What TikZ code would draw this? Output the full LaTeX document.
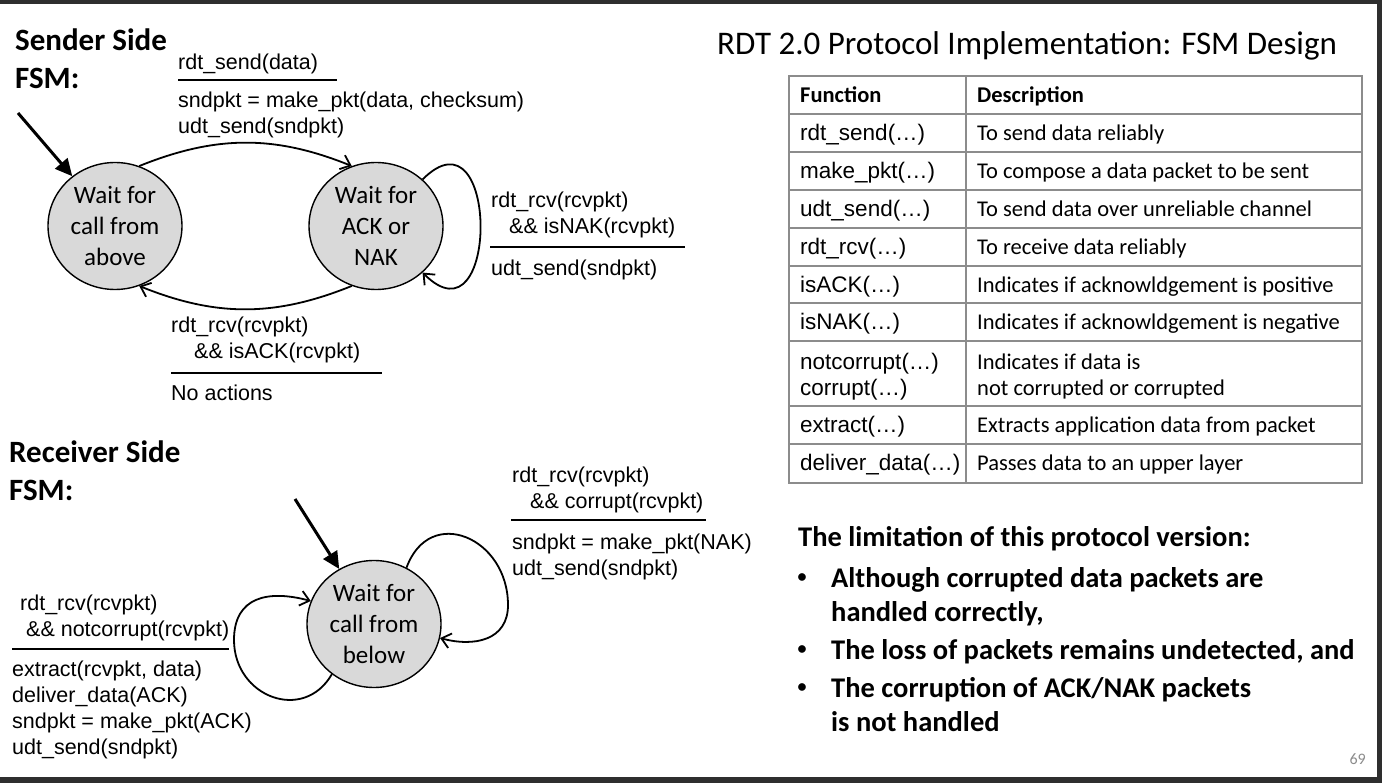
\documentclass[tikz,border=0pt]{standalone}
\usepackage{fontspec}
\setmainfont{Carlito}
\newfontfamily\arialfont{Liberation Sans}
\usetikzlibrary{shapes.geometric,arrows.meta}
\definecolor{framegray}{HTML}{2E2E2E}
\definecolor{statefill}{HTML}{D9D9D9}
\definecolor{gridgray}{HTML}{8C8C8C}
\definecolor{pagegray}{HTML}{8C8C8C}
\tikzset{
  state/.style={draw, ellipse, fill=statefill, line width=1.4pt, minimum width=134pt, minimum height=127pt, inner sep=0pt, align=center, font=\fontsize{25}{31}\selectfont},
  guard/.style={anchor=north west, inner sep=0pt, align=left, font=\arialfont\fontsize{21.5}{26}\selectfont},
  heading/.style={anchor=north west, inner sep=0pt, align=left, font=\bfseries\fontsize{31}{38}\selectfont},
  trans/.style={line width=1.8pt, -{Straight Barb[length=9pt,width=15pt]}},
  init/.style={line width=3pt, -{Triangle[length=17pt,width=16pt]}},
  bar/.style={line width=2.6pt},
  grid/.style={draw=gridgray, line width=1.3pt},
  fcell/.style={anchor=base west, inner sep=0pt, font=\arialfont\fontsize{22.5}{27}\selectfont},
  dcell/.style={anchor=base west, inner sep=0pt, font=\fontsize{22.5}{27}\selectfont},
  hcell/.style={anchor=base west, inner sep=0pt, font=\bfseries\fontsize{22.5}{27}\selectfont},
  point/.style={anchor=base west, inner sep=0pt, font=\bfseries\fontsize{28.5}{34}\selectfont},
  dot/.style={anchor=base, inner sep=0pt, font=\bfseries\fontsize{18}{20}\selectfont},
}
\begin{document}
\begin{tikzpicture}[x=1pt,y=1pt]
        \useasboundingbox (0,0) rectangle (1382,-783);
        \fill[framegray] (0,0) rectangle (1382,-783);
        \fill[white] (0,-4) rectangle (1377,-777);

        \node[heading] (sendh) at (15,-29) {Sender Side\\FSM:};
        \node[heading] (recvh) at (9,-441) {Receiver Side\\FSM:};
        \node[anchor=base west, inner sep=0pt, font=\fontsize{33}{40}\selectfont] (title) at (717,-55) {RDT 2.0 Protocol Implementation: FSM Design};

        \node[state] (A) at (115,-226) {Wait for\\call from\\above};
        \node[state] (B) at (376,-226) {Wait for\\ACK or\\NAK};
        \node[state] (C) at (374,-624) {Wait for\\call from\\below};

        \coordinate (Ainit) at (18,-113);
        \coordinate (Cinit) at (295,-499);
        \coordinate (Cright) at (508,-605);
        \coordinate (Cleft) at (234,-640);

        \draw[init] (Ainit) -- (A);
        \draw[trans] (A.68) to[bend left=22] (B.112);
        \draw[trans] (B.248) to[bend left=22] (A.292);
        \draw[trans] (B.45) to[out=45, in=-45, looseness=3] (B.-45);

        \draw[init] (Cinit) -- (C);
        \draw[trans] (C.60) to[out=70, in=90, looseness=1.6] (Cright) to[out=-90, in=-15, looseness=1.2] (C.-12);
        \draw[trans] (C.230) to[out=240, in=-90, looseness=1.4] (Cleft) to[out=90, in=165, looseness=1.3] (C.160);

        \node[guard] (sendg) at (178,-54) {rdt\_send(data)};
        \draw[bar] (178,-80) -- (337,-80);
        \node[guard] (senda) at (178,-92) {sndpkt = make\_pkt(data, checksum)\\udt\_send(sndpkt)};

        \node[guard] (nakg) at (491,-192) {rdt\_rcv(rcvpkt)\\\hspace*{18pt}\&\& isNAK(rcvpkt)};
        \draw[bar] (490,-247) -- (685,-247);
        \node[guard] (naka) at (491,-260) {udt\_send(sndpkt)};

        \node[guard] (ackg) at (171,-317) {rdt\_rcv(rcvpkt)\\\hspace*{23pt}\&\& isACK(rcvpkt)};
        \draw[bar] (171,-373) -- (382,-373);
        \node[guard] (acka) at (171,-385) {No actions};

        \node[guard] (corg) at (512,-467) {rdt\_rcv(rcvpkt)\\\hspace*{18pt}\&\& corrupt(rcvpkt)};
        \draw[bar] (511,-520) -- (706,-520);
        \node[guard] (cora) at (512,-534) {sndpkt = make\_pkt(NAK)\\udt\_send(sndpkt)};

        \node[guard] (okg) at (20,-595) {rdt\_rcv(rcvpkt)\\\hspace*{6pt}\&\& notcorrupt(rcvpkt)};
        \draw[bar] (12,-649) -- (229,-649);
        \node[guard] (oka) at (12,-661) {extract(rcvpkt, data)\\deliver\_data(ACK)\\sndpkt = make\_pkt(ACK)\\udt\_send(sndpkt)};

        \draw[grid] (789,-76) rectangle (1362,-483);
        \draw[grid] (966,-76) -- (966,-483);
        \foreach \y in {114,152,190,228,266,303,341,406,444}
            \draw[grid] (789,-\y) -- (1362,-\y);
        \node[hcell] (fh) at (800,-103) {Function};
        \node[hcell] (dh) at (977,-103) {Description};
        \foreach \i/\y/\f/\d in {1/140.5/rdt\_send(…)/To send data reliably,
                                 2/178.5/make\_pkt(…)/To compose a data packet to be sent,
                                 3/216.5/udt\_send(…)/To send data over unreliable channel,
                                 4/254.5/rdt\_rcv(…)/To receive data reliably,
                                 5/292.5/isACK(…)/Indicates if acknowldgement is positive,
                                 6/330/isNAK(…)/Indicates if acknowldgement is negative,
                                 7/369.5/notcorrupt(…)/Indicates if data is,
                                 8/395.5/corrupt(…)/not corrupted or corrupted,
                                 9/433/extract(…)/Extracts application data from packet,
                                 10/471/deliver\_data(…)/Passes data to an upper layer}{
            \node[fcell] (f\i) at (800,-\y) {\f};
            \node[dcell] (d\i) at (977,-\y) {\d};
        }

        \node[point] (limit) at (798,-546) {The limitation of this protocol version:};
        \node[dot] (b1) at (802,-582) {•};
        \node[point] (p1) at (831,-587) {Although corrupted data packets are};
        \node[point] (p1b) at (831,-621) {handled correctly,};
        \node[dot] (b2) at (802,-654) {•};
        \node[point] (p2) at (831,-659) {The loss of packets remains undetected, and};
        \node[dot] (b3) at (802,-692) {•};
        \node[point] (p3) at (831,-697) {The corruption of ACK/NAK packets};
        \node[point] (p3b) at (831,-731) {is not handled};

        \node[anchor=base east, inner sep=0pt, text=pagegray, font=\fontsize{16}{19}\selectfont] (pagenum) at (1366,-764) {69};
    \end{tikzpicture}
\end{document}
